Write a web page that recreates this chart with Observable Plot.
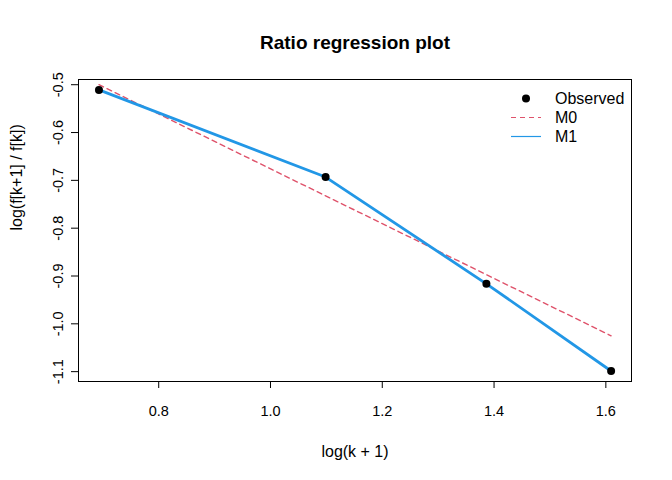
<!DOCTYPE html>
<html>
<head>
<meta charset="utf-8">
<script src="https://cdn.jsdelivr.net/npm/d3@7"></script>
<script src="https://cdn.jsdelivr.net/npm/@observablehq/plot@0.6"></script>
<style>
  body { margin: 0; background: #fff; font-family: "Liberation Sans", Arial, sans-serif; }
  #wrap { position: relative; width: 672px; height: 480px; }
  #legend { position: absolute; left: 505px; top: 89px; font-size: 16px; line-height: 19px; color: #000; }
  #legend div { display: flex; align-items: center; height: 19px; }
  #legend svg { width: 42px; height: 19px; margin-right: 8px; }
</style>
</head>
<body>
<div id="wrap">
  <div id="chart"></div>
  <div id="legend"></div>
</div>
<script>
const xValues = [0.6931, 1.0986, 1.3863, 1.6094];          // log(k + 1)
const observed = [-0.5108, -0.6931, -0.9163, -1.0986];      // log(f[k+1]/f[k])
const m0 = [-0.5000, -0.7324, -0.8972, -1.0250];            // M0 fit (dashed)
const m1 = [-0.5108, -0.6931, -0.9163, -1.0986];            // M1 fit (solid)
const xTicks = [0.8, 1.0, 1.2, 1.4, 1.6];
const yTicks = [-0.5, -0.6, -0.7, -0.8, -0.9, -1.0, -1.1];
const title = "Ratio regression plot";
const xLabel = "log(k + 1)";
const yLabel = "log(f[k+1] / f[k])";
const legendItems = ["Observed", "M0", "M1"];

const colM0 = "#DF536B";
const colM1 = "#2297E6";

const fmt = d => d.toFixed(1);

const obsData = xValues.map((x, i) => ({x, y: observed[i]}));
const m0Data = xValues.map((x, i) => ({x, y: m0[i]}));
const m1Data = xValues.map((x, i) => ({x, y: m1[i]}));

const chart = Plot.plot({
  width: 672,
  height: 480,
  marginLeft: 78,
  marginRight: 41,
  marginTop: 79,
  marginBottom: 99,
  style: {fontFamily: "Liberation Sans, Arial, sans-serif", fontSize: "14.5px", color: "#000", background: "#fff"},
  x: {domain: [0.6565, 1.6459], ticks: xTicks, tickFormat: fmt},
  y: {domain: [-1.1206, -0.4891], ticks: yTicks, tickFormat: fmt},
  marks: [
    Plot.frame({stroke: "#000", strokeWidth: 1}),
    Plot.axisX({ticks: xTicks, tickFormat: fmt, tickSize: 7, tickPadding: 17, fontSize: 14.5, label: null, stroke: "#000"}),
    Plot.axisY({ticks: yTicks, tickFormat: fmt, tickSize: 7, tickPadding: 9, tickRotate: -90, fontSize: 14.5, label: null, stroke: "#000"}),
    Plot.text([title], {frameAnchor: "top", lineAnchor: "middle", dy: -37, text: d => d, fontSize: 19, fontWeight: "bold", fill: "#000"}),
    Plot.text([xLabel], {frameAnchor: "bottom", lineAnchor: "middle", dy: 70, text: d => d, fontSize: 16, fill: "#000"}),
    Plot.text([yLabel], {frameAnchor: "left", lineAnchor: "middle", dx: -62, rotate: -90, text: d => d, fontSize: 16, fill: "#000"}),
    Plot.line(m0Data, {x: "x", y: "y", stroke: colM0, strokeWidth: 1.4, strokeDasharray: "5,4"}),
    Plot.line(m1Data, {x: "x", y: "y", stroke: colM1, strokeWidth: 2.8}),
    Plot.dot(obsData, {x: "x", y: "y", r: 4, fill: "#000", stroke: "none"})
  ]
});
document.getElementById("chart").appendChild(chart);

// legend (R style, no box)
const legend = document.getElementById("legend");
const symbols = [
  `<svg><circle cx="21" cy="9.5" r="4" fill="#000"/></svg>`,
  `<svg><line x1="6" x2="36" y1="9.5" y2="9.5" stroke="${colM0}" stroke-width="1.2" stroke-dasharray="5,4"/></svg>`,
  `<svg><line x1="6" x2="36" y1="9.5" y2="9.5" stroke="${colM1}" stroke-width="1.2"/></svg>`
];
legendItems.forEach((name, i) => {
  const row = document.createElement("div");
  row.innerHTML = symbols[i] + `<span>${name}</span>`;
  legend.appendChild(row);
});
</script>
</body>
</html>
